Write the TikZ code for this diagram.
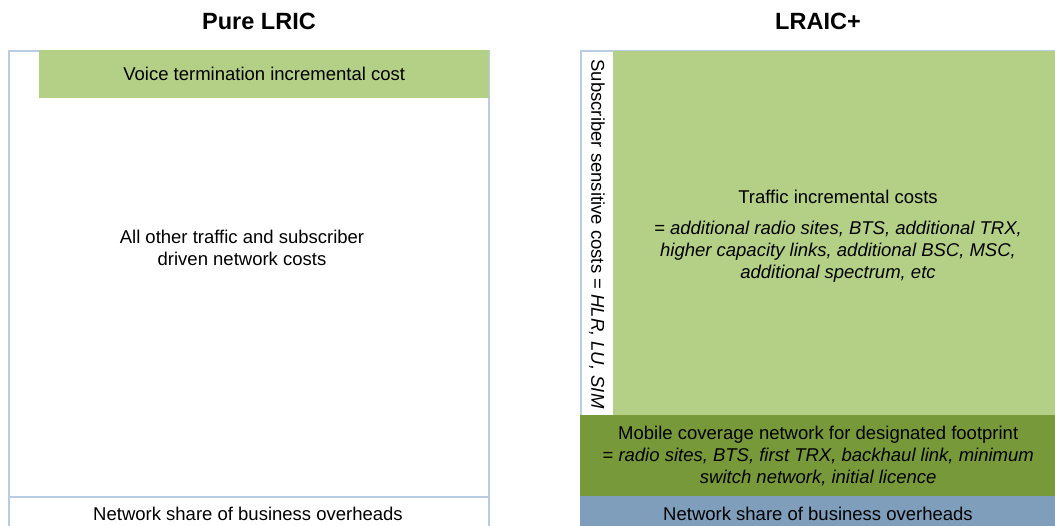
\documentclass[tikz,border=0pt]{standalone}
\usepackage{fontspec}
\setmainfont{Liberation Sans}
\usetikzlibrary{positioning, calc}
\definecolor{lineblue}{HTML}{B9CDE2}
\definecolor{lightgreen}{HTML}{B4CF86}
\definecolor{darkgreen}{HTML}{77993A}
\definecolor{greyblue}{HTML}{7F9EBB}
\tikzset{
    boxnode/.style = {draw=lineblue, line width=2pt, fill=white, rectangle, inner sep=0em, anchor=north west},
    fillnode/.style = {draw=none, rectangle, inner sep=0em, anchor=north west, align=center,
      font=\fontsize{18.5}{22}\selectfont},
    textnode/.style = {draw=none, fill=none, rectangle, inner sep=0em, align=center,
      font=\fontsize{18.5}{22}\selectfont},
    titlenode/.style = {textnode, font=\fontsize{23.5}{26}\selectfont\bfseries}
}

\begin{document}
\begin{tikzpicture}[x=1pt, y=-1pt]
    \useasboundingbox (0,0) rectangle (1055,526);

    % pure LRIC
    \node [name=lricbox, boxnode, minimum width=480pt, minimum height=490pt] at (8,50) {};
    \node [name=voice, fillnode, fill=lightgreen, minimum width=450pt, minimum height=48pt] at (39,50) {Voice termination incremental cost};
    \node [name=others, textnode] at (242,248) {All other traffic and subscriber\\driven network costs};
    \node [name=overheads1, boxnode, minimum width=480pt, minimum height=40pt] at (8,496) {};
    \node [name=overtext1, textnode, anchor=base] at (248,520) {Network share of business overheads};
    \node [name=lric, titlenode] at (259,21) {Pure LRIC};

    % LRAIC+
    \node [name=lraicbox, boxnode, minimum width=490pt, minimum height=490pt] at (580,50) {};
    \node [name=subs, boxnode, minimum width=33pt, minimum height=365pt] at (580,50) {};
    \node [name=substext, textnode, rotate=-90] at (597,234) {Subscriber sensitive costs = \textit{HLR, LU, SIM}};
    \node [name=traffic, fillnode, fill=lightgreen, minimum width=443pt, minimum height=364pt] at (613,51) {};
    \node [name=traffictext, textnode] at (838,236) {Traffic incremental costs\\[9pt]
      \textit{= additional radio sites, BTS, additional TRX,}\\
      \textit{higher capacity links, additional BSC, MSC,}\\
      \textit{additional spectrum, etc}};
    \node [name=coverage, fillnode, fill=darkgreen, minimum width=476pt, minimum height=81pt] at (580,415)
      {Mobile coverage network for designated footprint\\
      = \textit{radio sites, BTS, first TRX, backhaul link, minimum}\\
      \textit{switch network, initial licence}};
    \node [name=overheads2, fillnode, fill=greyblue, minimum width=476pt, minimum height=32pt] at (580,496) {};
    \node [name=overtext2, textnode, anchor=base] at (818,520) {Network share of business overheads};
    \node [name=lraic, titlenode] at (818,21) {LRAIC+};
\end{tikzpicture}
\end{document}
